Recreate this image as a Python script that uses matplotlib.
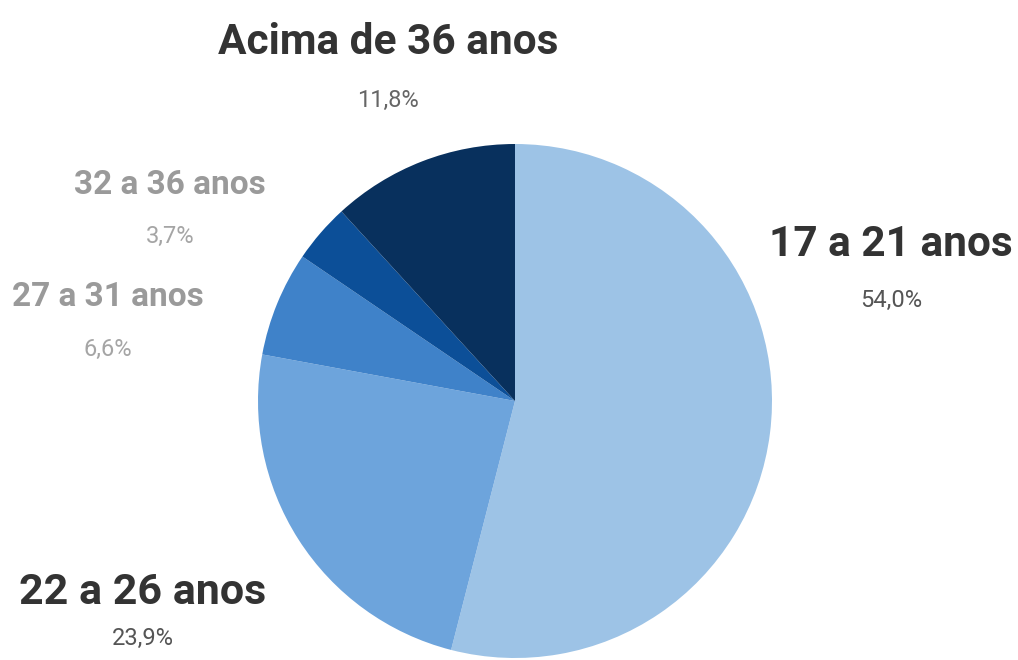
import matplotlib.pyplot as plt

# Faixa etária
labels = ['17 a 21 anos', '22 a 26 anos', '27 a 31 anos', '32 a 36 anos', 'Acima de 36 anos']
values = [54.0, 23.9, 6.6, 3.7, 11.8]
pct_text = ['54,0%', '23,9%', '6,6%', '3,7%', '11,8%']
colors = ['#9dc3e6', '#6da4dc', '#3f82c9', '#0c4f98', '#08305d']

W, H = 1018, 660
fig = plt.figure(figsize=(W / 100, H / 100), dpi=100)
ax = fig.add_axes([0, 0, 1, 1])
ax.pie(values, colors=colors, startangle=90, counterclock=False,
       center=(515, H - 401), radius=257, wedgeprops={'linewidth': 0})
ax.set_xlim(0, W)
ax.set_ylim(0, H)
ax.set_aspect('equal')
ax.axis('off')

fam = ['Roboto', 'DejaVu Sans']

# label positions in pixels (x, y of name, y of percentage), sizes, colours
pos = [(891, 245, 300, 30.5, '#333333', '#555555'),
       (143, 592, 638, 31, '#333333', '#555555'),
       (108, 297, 349, 24, '#9a9a9a', '#a5a5a5'),
       (170, 185, 236, 24, '#9a9a9a', '#a5a5a5'),
       (388, 42, 100, 30.5, '#333333', '#666666')]

for lab, pct, (x, y, yp, fs, c1, c2) in zip(labels, pct_text, pos):
    fig.text(x / W, 1 - y / H, lab, ha='center', va='center', fontsize=fs,
             fontweight='bold', color=c1, family=fam)
    fig.text(x / W, 1 - yp / H, pct, ha='center', va='center', fontsize=17,
             color=c2, family=fam)

fig.savefig('out.png', dpi=100)
